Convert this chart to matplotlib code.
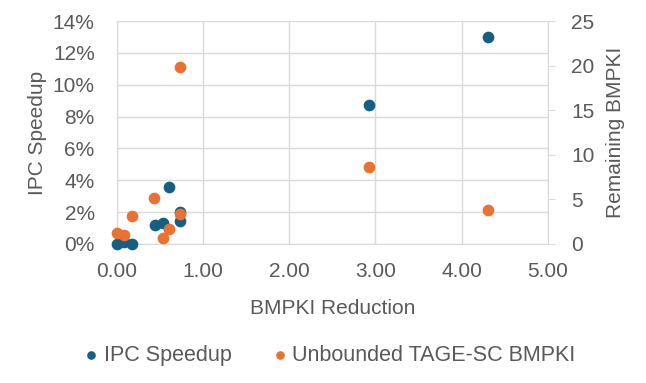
import matplotlib.pyplot as plt
from matplotlib.ticker import FuncFormatter

# BMPKI reduction (x) for each workload
ipc_x = [0.00, 0.08, 0.18, 0.44, 0.54, 0.61, 0.73, 0.73, 2.93, 4.31]
ipc_speedup = [0.0, 0.1, 0.0, 1.18, 1.34, 3.57, 2.0, 1.47, 8.73, 13.0]  # percent

tage_x = [0.00, 0.08, 0.18, 0.43, 0.53, 0.61, 0.73, 0.73, 2.93, 4.31]
tage_bmpki = [1.2, 1.0, 3.17, 5.2, 0.7, 1.65, 3.36, 19.9, 8.6, 3.78]

x_ticks = [0, 1, 2, 3, 4, 5]
left_ticks = [0, 2, 4, 6, 8, 10, 12, 14]
right_ticks = [0, 5, 10, 15, 20, 25]

blue = "#156082"
orange = "#E97132"
grid_c = "#D9D9D9"
text_c = "#595959"

plt.rcParams["font.family"] = ["Liberation Sans", "DejaVu Sans"]
fs = 15

fig = plt.figure(figsize=(6.46, 3.83), dpi=100)
ax = fig.add_axes([0.181, 0.363, 0.667, 0.582])
ax2 = ax.twinx()

ax.scatter(ipc_x, ipc_speedup, s=55, color=blue, zorder=3, label="IPC Speedup", clip_on=False)
ax2.scatter(tage_x, tage_bmpki, s=55, color=orange, zorder=3, label="Unbounded TAGE-SC BMPKI", clip_on=False)

ax.set_xlim(0, 5)
ax.set_ylim(0, 14)
ax2.set_ylim(0, 25)
ax.set_xticks(x_ticks)
ax.set_yticks(left_ticks)
ax2.set_yticks(right_ticks)
ax.xaxis.set_major_formatter(FuncFormatter(lambda v, p: f"{v:.2f}"))
ax.yaxis.set_major_formatter(FuncFormatter(lambda v, p: f"{v:.0f}%"))

ax.grid(True, color=grid_c, linewidth=1.0)
ax.set_axisbelow(True)

for a in (ax, ax2):
    for s in a.spines.values():
        s.set_visible(False)
ax.spines["left"].set_visible(True)
ax.spines["left"].set_color(grid_c)
ax.spines["bottom"].set_visible(True)
ax.spines["bottom"].set_color(grid_c)
ax2.spines["right"].set_visible(True)
ax2.spines["right"].set_color(grid_c)

ax.tick_params(axis="y", length=0, labelsize=fs, labelcolor=text_c, pad=16)
ax.tick_params(axis="x", length=0, labelsize=fs, labelcolor=text_c, pad=13)
ax2.tick_params(axis="y", length=5, color=grid_c, labelsize=fs, labelcolor=text_c, pad=12)

ax.set_xlabel("BMPKI Reduction", fontsize=fs, color=text_c, labelpad=13)
ax.set_ylabel("IPC Speedup", fontsize=fs, color=text_c, labelpad=4)
ax2.set_ylabel("Remaining BMPKI", fontsize=fs, color=text_c, rotation=90, labelpad=8)

h1, l1 = ax.get_legend_handles_labels()
h2, l2 = ax2.get_legend_handles_labels()
fig.legend(h1 + h2, l1 + l2, loc="center", bbox_to_anchor=(0.508, 0.073), ncol=2,
           frameon=False, fontsize=15.5, labelcolor=text_c, handletextpad=0.1,
           handlelength=1.0, columnspacing=1.7, markerscale=0.7)

plt.savefig("out.png", dpi=100)
